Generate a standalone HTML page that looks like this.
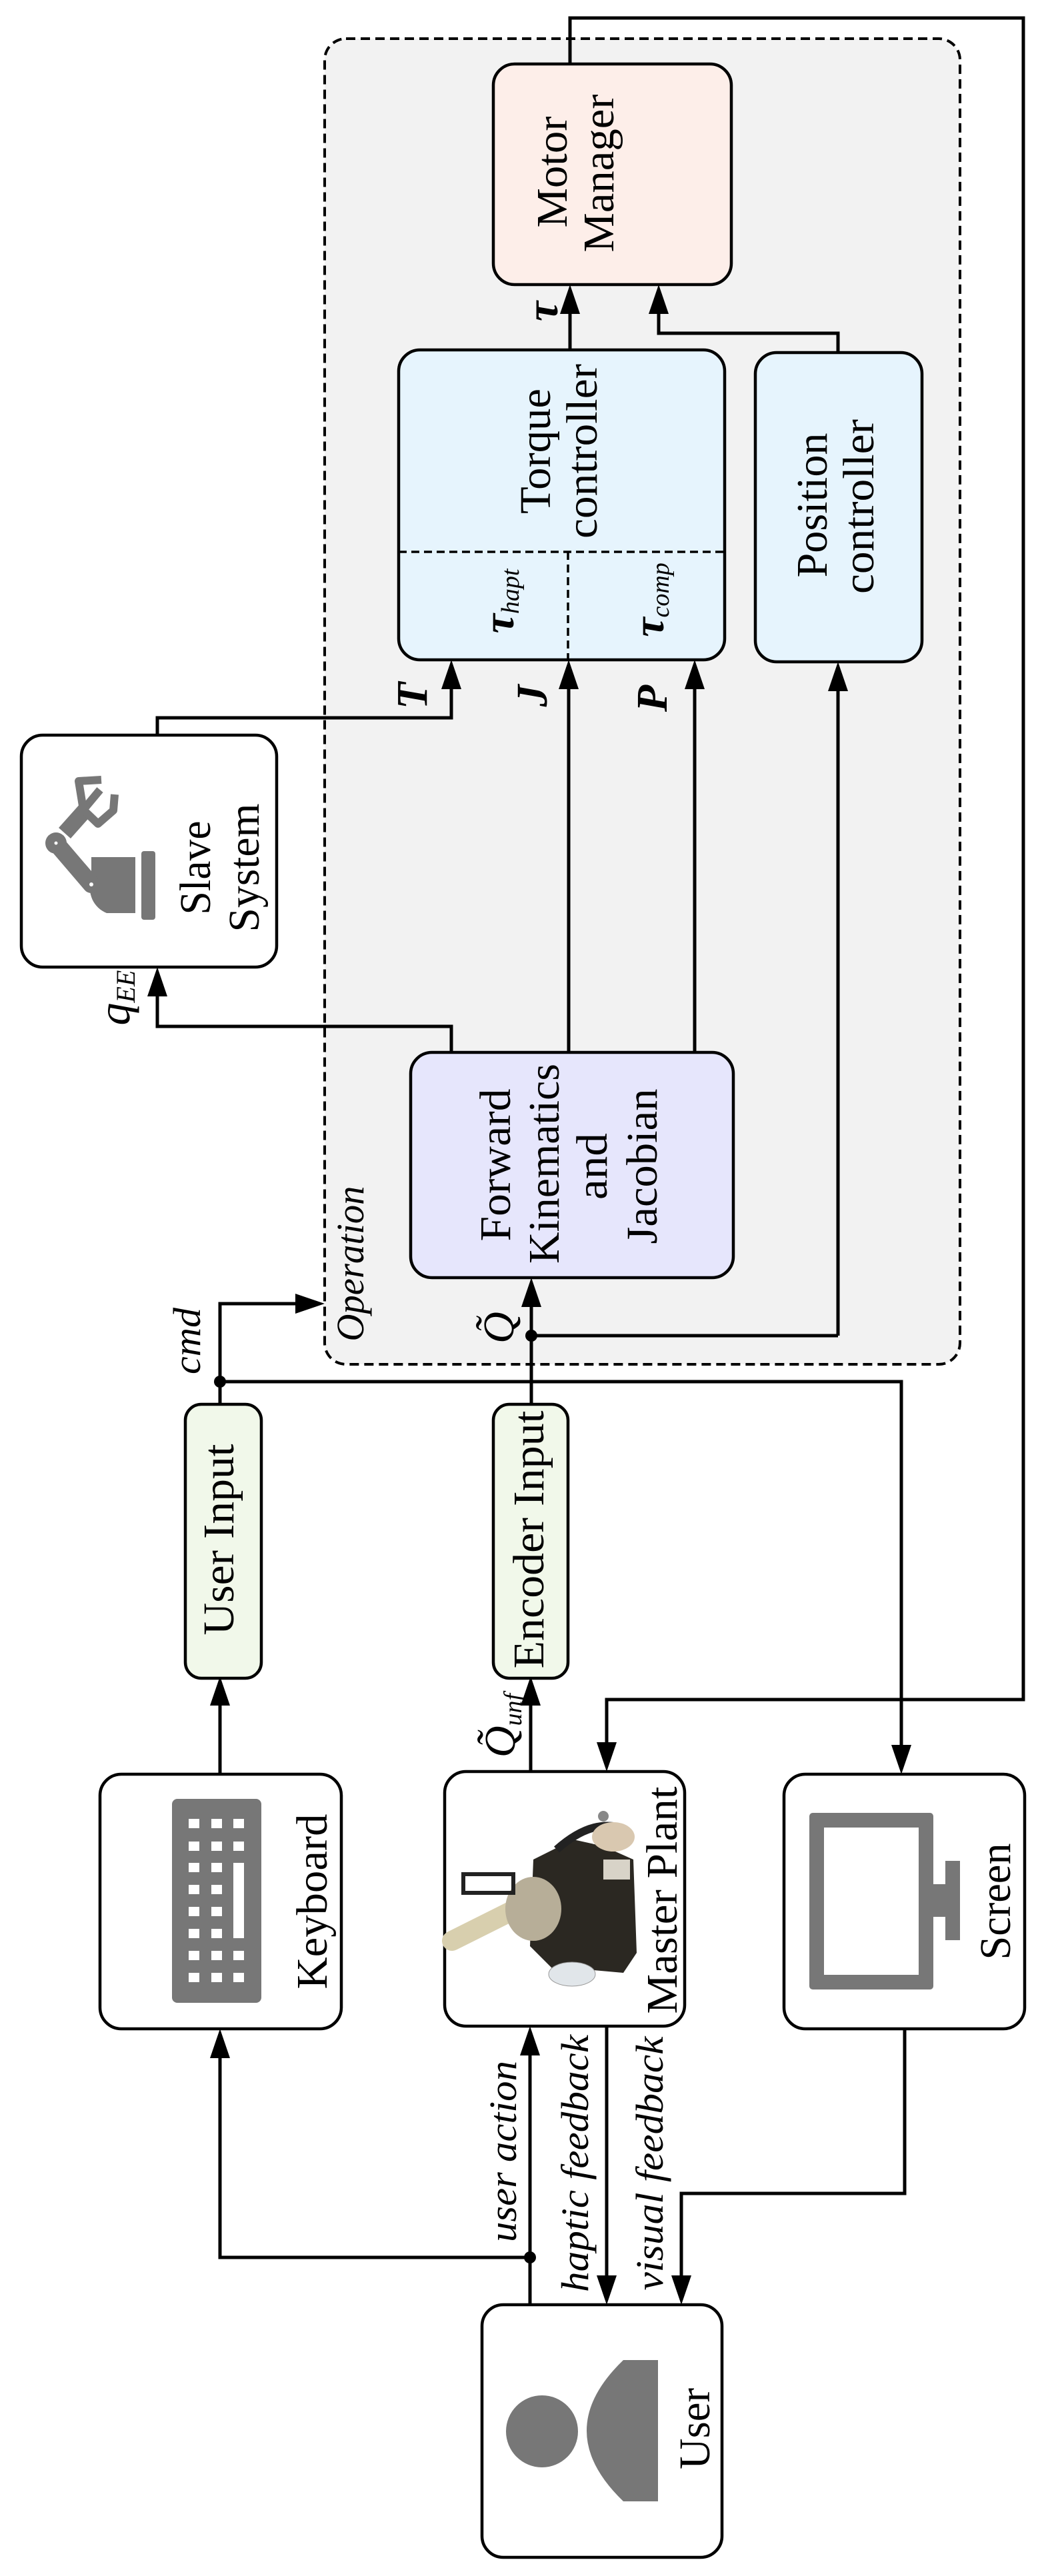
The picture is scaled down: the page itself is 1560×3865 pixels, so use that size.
<!DOCTYPE html>
<html><head><meta charset="utf-8"><style>
html,body{margin:0;padding:0;background:#fff}
svg{display:block}
text{font-family:"Liberation Serif",serif;fill:#000}
.it{font-style:italic}
</style></head><body>
<svg width="1560" height="3865" viewBox="0 0 1560 3865" xmlns="http://www.w3.org/2000/svg">
<!-- Operation box -->
<rect x="487" y="58" width="953" height="1989" rx="32" fill="#f2f2f2" stroke="#000" stroke-width="4" stroke-dasharray="14 8"/>

<g stroke="#000" stroke-width="5" fill="none">
<path d="M855 96 V27 H1535 V2550 H910 V2620"/>
<path d="M855 525 V470"/>
<path d="M1257 529 V500 H988 V470"/>
<path d="M236 1103 V1077 H677 V1030"/>
<path d="M853 1579 V1030"/>
<path d="M1042 1579 V1030"/>
<path d="M1257 2004 V1035"/>
<path d="M797 2004 H1257"/>
<path d="M677 1579 V1540 H236 V1492"/>
<path d="M797 2107 V1958"/>
<path d="M330 2107 V1956 H446"/>
<path d="M330 2073 H1352 V2620"/>
<path d="M330 2662 V2558"/>
<path d="M796 2658 V2558"/>
<path d="M795 3458 V3082"/>
<path d="M795 3387 H330 V3086"/>
<path d="M910 3040 V3416"/>
<path d="M1357 3044 V3291 H1022 V3416"/>
</g>
<g fill="#000">
<polygon points="840,471 855,427 870,471"/>
<polygon points="973,471 988,427 1003,471"/>
<polygon points="662,1034 677,990 692,1034"/>
<polygon points="838,1034 853,990 868,1034"/>
<polygon points="1027,1034 1042,990 1057,1034"/>
<polygon points="1242,1037 1257,993 1272,1037"/>
<polygon points="221,1495 236,1451 251,1495"/>
<polygon points="782,1961 797,1917 812,1961"/>
<polygon points="443,1941 487,1956 443,1971"/>
<polygon points="1337,2618 1352,2662 1367,2618"/>
<polygon points="895,2614 910,2658 925,2614"/>
<polygon points="315,2559 330,2515 345,2559"/>
<polygon points="781,2559 796,2515 811,2559"/>
<polygon points="780,3084 795,3040 810,3084"/>
<polygon points="315,3088 330,3044 345,3088"/>
<polygon points="895,3414 910,3458 925,3414"/>
<polygon points="1007,3414 1022,3458 1037,3414"/>
<circle cx="797" cy="2004" r="9"/>
<circle cx="330" cy="2073" r="9"/>
<circle cx="795" cy="3387" r="9"/>
</g>

<g stroke="#000" stroke-width="4.5">
<rect x="740" y="96" width="357" height="331" rx="32" fill="#fdeee9"/>
<rect x="598" y="525" width="489" height="465" rx="32" fill="#e6f4fd"/>
<rect x="1133" y="529" width="250" height="464" rx="32" fill="#e6f4fd"/>
<rect x="32" y="1103" width="383" height="348" rx="32" fill="#fff"/>
<rect x="616" y="1579" width="484" height="338" rx="32" fill="#e6e6fc"/>
<rect x="278" y="2107" width="114" height="411" rx="24" fill="#f1f8ea"/>
<rect x="740" y="2107" width="112" height="411" rx="24" fill="#f1f8ea"/>
<rect x="150" y="2662" width="362" height="382" rx="32" fill="#fff"/>
<rect x="667" y="2658" width="360" height="382" rx="32" fill="#fff"/>
<rect x="1176" y="2662" width="361" height="382" rx="32" fill="#fff"/>
<rect x="723" y="3458" width="360" height="379" rx="32" fill="#fff"/>
</g>
<g stroke="#000" stroke-width="3.5" stroke-dasharray="12 7">
<path d="M598 828 H1087"/>
<path d="M852 828 V990"/>
</g>

<g fill="#777" stroke="#777">
<rect x="212" y="1277" width="21" height="103" rx="4" stroke="none"/>
<path d="M203 1286 V1370 H160 A40 40 0 0 1 137 1320 V1286 Z" stroke="none"/>
<path d="M84 1265 L137 1327" stroke-width="26" stroke-linecap="round" fill="none"/>
<circle cx="84" cy="1265" r="16" stroke="none"/>
<path d="M97 1250 L130 1213" stroke-width="24" fill="none"/>
<path d="M150 1185 L125 1215 L147 1236 L170 1216 L172 1192" stroke-width="12" fill="none" stroke-linejoin="round"/>
<path d="M125 1215 L118 1172 L152 1170" stroke-width="12" fill="none" stroke-linejoin="round"/>
</g>
<circle cx="137" cy="1327" r="3" fill="#fff"/>
<circle cx="84" cy="1265" r="2.5" fill="#fff"/>

<rect x="258" y="2699" width="134" height="306" rx="8" fill="#777"/>
<g fill="#fff">
<rect x="283" y="2729" width="16" height="14"/><rect x="317" y="2729" width="16" height="14"/><rect x="350" y="2729" width="16" height="14"/>
<rect x="283" y="2763" width="16" height="14"/><rect x="317" y="2763" width="16" height="14"/><rect x="350" y="2763" width="16" height="14"/>
<rect x="283" y="2795" width="16" height="14"/><rect x="317" y="2795" width="16" height="14"/>
<rect x="283" y="2828" width="16" height="14"/><rect x="317" y="2828" width="16" height="14"/>
<rect x="283" y="2861" width="16" height="14"/><rect x="317" y="2861" width="16" height="14"/>
<rect x="283" y="2894" width="16" height="14"/><rect x="317" y="2894" width="16" height="14"/>
<rect x="283" y="2927" width="16" height="14"/><rect x="317" y="2927" width="16" height="14"/><rect x="350" y="2927" width="16" height="14"/>
<rect x="283" y="2960" width="16" height="14"/><rect x="317" y="2960" width="16" height="14"/><rect x="350" y="2960" width="16" height="14"/>
<rect x="350" y="2795" width="16" height="113"/>
</g>

<rect x="1214" y="2720" width="186" height="265" rx="5" fill="#777"/>
<rect x="1236" y="2742" width="142" height="221" fill="#fff"/>
<rect x="1398" y="2827" width="22" height="49" fill="#777"/>
<rect x="1418" y="2792" width="22" height="119" fill="#777"/>

<g>
<polygon points="800,2790 860,2760 905,2770 950,2790 955,2930 935,2960 880,2955 830,2955 795,2920" fill="#2b2822"/>
<path d="M835 2775 Q880 2735 920 2740" stroke="#222" stroke-width="12" fill="none"/>
<ellipse cx="920" cy="2756" rx="32" ry="22" fill="#d9c8b0"/>
<rect x="905" y="2790" width="40" height="30" fill="#d8d3c8"/>
<path d="M678 2912 L782 2860" stroke="#d8cfae" stroke-width="30" stroke-linecap="round"/>
<ellipse cx="800" cy="2864" rx="42" ry="48" fill="#b7ae98"/>
<rect x="695" y="2812" width="75" height="28" fill="none" stroke="#222" stroke-width="6"/>
<ellipse cx="858" cy="2962" rx="35" ry="18" fill="#e1e6ea" stroke="#999" stroke-width="1"/>
<circle cx="905" cy="2725" r="8" fill="#888"/>
</g>

<ellipse cx="813" cy="3648" rx="54" ry="54" fill="#777"/>
<path d="M987 3541 V3753 H935 Q880 3700 880 3647 Q880 3594 935 3541 Z" fill="#777"/>

<g font-size="66">
<text transform="translate(850,258) rotate(-90)" text-anchor="middle" textLength="167" lengthAdjust="spacingAndGlyphs">Motor</text>
<text transform="translate(920,260) rotate(-90)" text-anchor="middle" textLength="237" lengthAdjust="spacingAndGlyphs">Manager</text>
<text transform="translate(825,677) rotate(-90)" text-anchor="middle" textLength="188" lengthAdjust="spacingAndGlyphs">Torque</text>
<text transform="translate(895,677) rotate(-90)" text-anchor="middle" textLength="262" lengthAdjust="spacingAndGlyphs">controller</text>
<text transform="translate(1240,758) rotate(-90)" text-anchor="middle" textLength="217" lengthAdjust="spacingAndGlyphs">Position</text>
<text transform="translate(1310,760) rotate(-90)" text-anchor="middle" textLength="262" lengthAdjust="spacingAndGlyphs">controller</text>
<text transform="translate(315,1302) rotate(-90)" text-anchor="middle" textLength="141" lengthAdjust="spacingAndGlyphs">Slave</text>
<text transform="translate(388,1302) rotate(-90)" text-anchor="middle" textLength="193" lengthAdjust="spacingAndGlyphs">System</text>
<text transform="translate(765,1748) rotate(-90)" text-anchor="middle" textLength="229" lengthAdjust="spacingAndGlyphs">Forward</text>
<text transform="translate(838,1746) rotate(-90)" text-anchor="middle" textLength="300" lengthAdjust="spacingAndGlyphs">Kinematics</text>
<text transform="translate(910,1750) rotate(-90)" text-anchor="middle" textLength="100" lengthAdjust="spacingAndGlyphs">and</text>
<text transform="translate(985,1750) rotate(-90)" text-anchor="middle" textLength="233" lengthAdjust="spacingAndGlyphs">Jacobian</text>
<text transform="translate(350,2310) rotate(-90)" text-anchor="middle" textLength="287" lengthAdjust="spacingAndGlyphs">User Input</text>
<text transform="translate(815,2310) rotate(-90)" text-anchor="middle" textLength="387" lengthAdjust="spacingAndGlyphs">Encoder Input</text>
<text transform="translate(490,2853) rotate(-90)" text-anchor="middle" textLength="263" lengthAdjust="spacingAndGlyphs">Keyboard</text>
<text transform="translate(1015,2851) rotate(-90)" text-anchor="middle" textLength="341" lengthAdjust="spacingAndGlyphs">Master Plant</text>
<text transform="translate(1515,2853) rotate(-90)" text-anchor="middle" textLength="175" lengthAdjust="spacingAndGlyphs">Screen</text>
<text transform="translate(1064,3644) rotate(-90)" text-anchor="middle" textLength="122" lengthAdjust="spacingAndGlyphs">User</text>
</g>
<g font-size="58">
<text class="it" transform="translate(545,1896) rotate(-90)" text-anchor="middle" textLength="233" lengthAdjust="spacingAndGlyphs">Operation</text>
<text class="it" transform="translate(300,2012) rotate(-90)" text-anchor="middle" textLength="100" lengthAdjust="spacingAndGlyphs">cmd</text>
<text class="it" transform="translate(774,3228) rotate(-90)" text-anchor="middle" textLength="272" lengthAdjust="spacingAndGlyphs">user action</text>
<text class="it" transform="translate(882,3246) rotate(-90)" text-anchor="middle" textLength="386" lengthAdjust="spacingAndGlyphs">haptic feedback</text>
<text class="it" transform="translate(994,3246) rotate(-90)" text-anchor="middle" textLength="381" lengthAdjust="spacingAndGlyphs">visual feedback</text>
<text class="it" font-size="68" font-weight="bold" transform="translate(836,467) rotate(-90)" text-anchor="middle">τ</text>
<text class="it" font-size="66" font-weight="bold" transform="translate(640,1044) rotate(-90)" text-anchor="middle">T</text>
<text class="it" font-size="66" font-weight="bold" transform="translate(820,1044) rotate(-90)" text-anchor="middle">J</text>
<text class="it" font-size="66" font-weight="bold" transform="translate(1000,1048) rotate(-90)" text-anchor="middle">P</text>
<text class="it" font-size="66" transform="translate(770,1992) rotate(-90)" text-anchor="middle">Q̃</text>
<text class="it" font-size="66" transform="translate(772,2589) rotate(-90)" text-anchor="middle">Q̃<tspan font-size="38" dy="10">unf</tspan></text>
<text class="it" font-size="68" transform="translate(194,1497) rotate(-90)" text-anchor="middle">q<tspan font-size="40" dy="8">EE</tspan></text>
<text class="it" font-size="66" transform="translate(770,902) rotate(-90)" text-anchor="middle"><tspan font-weight="bold">τ</tspan><tspan font-size="38" dy="8">hapt</tspan></text>
<text class="it" font-size="66" transform="translate(995,900) rotate(-90)" text-anchor="middle"><tspan font-weight="bold">τ</tspan><tspan font-size="38" dy="8">comp</tspan></text>
</g>
</svg>
</body></html>
